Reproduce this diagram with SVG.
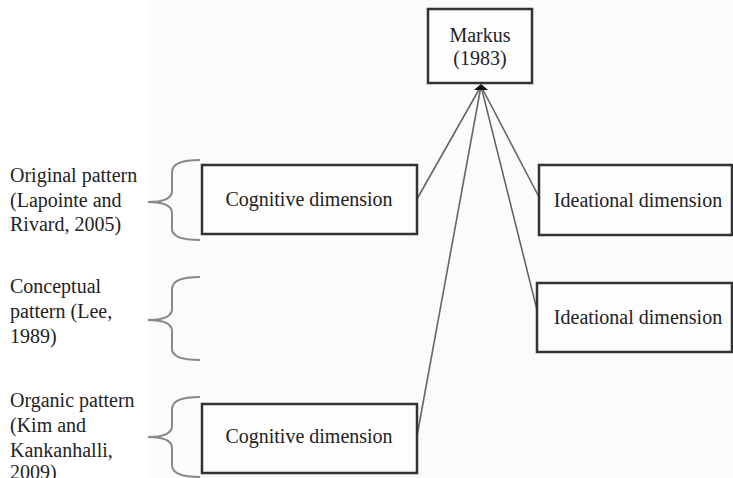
<svg xmlns="http://www.w3.org/2000/svg" width="733" height="478" viewBox="0 0 733 478">
<style>
  text { font-family: "Liberation Serif", "Times New Roman", serif; font-size: 20px; fill: #222; }
  .box { fill: #fdfdfd; stroke: #333; stroke-width: 2.5; }
  .conn { fill: none; stroke: #666; stroke-width: 1.6; }
  .brace { fill: none; stroke: #888; stroke-width: 2; }
</style>
<rect x="0" y="0" width="733" height="478" fill="#ffffff"/>
<rect x="147" y="0" width="586" height="478" fill="#fbfbfb"/>

<g id="connectors">
  <line class="conn" x1="417" y1="199" x2="481" y2="86"/>
  <line class="conn" x1="539" y1="197" x2="481" y2="86"/>
  <line class="conn" x1="537" y1="310" x2="481" y2="86"/>
  <line class="conn" x1="417" y1="436" x2="481" y2="86"/>
  <path d="M474,90 L481,84 L488,90 z" fill="#111"/>
</g>

<g id="markus">
  <rect class="box" x="428" y="9" width="104" height="74"/>
  <text x="480" y="42" text-anchor="middle">Markus</text>
  <text x="480" y="65" text-anchor="middle">(1983)</text>
</g>

<g id="cognitive1">
  <rect class="box" x="202" y="165" width="215" height="69"/>
  <text x="309" y="206" text-anchor="middle">Cognitive dimension</text>
</g>

<g id="ideational1">
  <rect class="box" x="539" y="165" width="193" height="70"/>
  <text x="638" y="207" text-anchor="middle">Ideational dimension</text>
</g>

<g id="ideational2">
  <rect class="box" x="537" y="283" width="195" height="69"/>
  <text x="638" y="324" text-anchor="middle">Ideational dimension</text>
</g>

<g id="cognitive2">
  <rect class="box" x="202" y="404" width="215" height="69"/>
  <text x="309" y="443" text-anchor="middle">Cognitive dimension</text>
</g>

<g id="brace1">
  <path class="brace" d="M200,160 Q172,160 172,172 L172,191 Q172,202 148,202 Q172,202 172,213 L172,229 Q172,240 200,240"/>
  <text x="10" y="182">Original pattern</text>
  <text x="10" y="207">(Lapointe and</text>
  <text x="10" y="231">Rivard, 2005)</text>
</g>

<g id="brace2">
  <path class="brace" d="M200,277 Q172,277 172,289 L172,309 Q172,320 148,320 Q172,320 172,331 L172,349 Q172,360 200,360"/>
  <text x="10" y="293">Conceptual</text>
  <text x="10" y="318">pattern (Lee,</text>
  <text x="10" y="343">1989)</text>
</g>

<g id="brace3">
  <path class="brace" d="M200,397 Q172,397 172,409 L172,426 Q172,437 148,437 Q172,437 172,448 L172,465 Q172,477 200,477"/>
  <text x="10" y="407">Organic pattern</text>
  <text x="10" y="432">(Kim and</text>
  <text x="10" y="457">Kankanhalli,</text>
  <text x="10" y="479">2009)</text>
</g>
</svg>
